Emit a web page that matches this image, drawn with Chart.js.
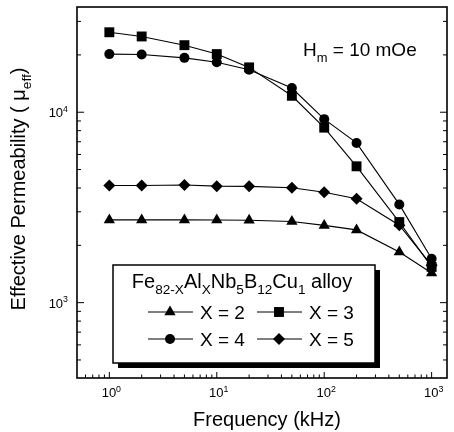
<!DOCTYPE html>
<html>
<head>
<meta charset="utf-8">
<script src="https://cdn.jsdelivr.net/npm/chart.js@4.4.1/dist/chart.umd.min.js"></script>
<style>
  body { margin: 0; background: #fff; }
  #wrap { width: 454px; height: 432px; }
</style>
</head>
<body>
<div id="wrap"><canvas id="perm_canvas" width="454" height="432"></canvas></div>
<script>
// values (frequency in kHz, effective permeability)
const freqKHz = [1, 2, 5, 10, 20, 50, 100, 200, 500, 1000];
const muX2 = [2720, 2720, 2720, 2715, 2710, 2670, 2545, 2410, 1845, 1430];
const muX3 = [26300, 25000, 22500, 20200, 17200, 12200, 8300, 5200, 2650, 1540];
const muX4 = [20200, 20100, 19300, 18300, 16700, 13400, 9200, 6900, 3280, 1700];
const muX5 = [4120, 4120, 4150, 4090, 4080, 4010, 3800, 3510, 2550, 1570];

const seriesNames = ["X = 2", "X = 3", "X = 4", "X = 5"];
const xTickExps = [0, 1, 2, 3];
const yTickExps = [3, 4];

const FONT = '"Liberation Sans", Arial, sans-serif';

function series(label, data, style, r) {
  return {
    label: label,
    data: data,
    borderColor: "#000",
    borderWidth: 1.1,
    backgroundColor: "#000",
    pointStyle: style,
    pointRadius: r,
    pointBorderWidth: 0,
    pointBackgroundColor: "#000"
  };
}

// text with sub/superscripts: parts = [[text, 0|-1|1], ...] (-1 sub, 1 sup)
function richWidth(ctx, parts, size) {
  let w = 0;
  parts.forEach(p => {
    ctx.font = (p[1] ? size * 0.68 : size) + "px " + FONT;
    w += ctx.measureText(p[0]).width;
  });
  return w;
}
function drawRich(ctx, parts, x, y, size, align) {
  const w = richWidth(ctx, parts, size);
  let cx = align === "center" ? x - w / 2 : align === "right" ? x - w : x;
  ctx.textAlign = "left";
  ctx.textBaseline = "alphabetic";
  parts.forEach(p => {
    const s = p[1] ? size * 0.68 : size;
    ctx.font = s + "px " + FONT;
    const dy = p[1] === -1 ? size * 0.3 : p[1] === 1 ? -size * 0.42 : 0;
    ctx.fillText(p[0], cx, y + dy);
    cx += ctx.measureText(p[0]).width;
  });
}

function marker(ctx, style, x, y, r) {
  ctx.beginPath();
  if (style === "circle") {
    ctx.arc(x, y, r, 0, Math.PI * 2);
  } else if (style === "rect") {
    const s = Math.SQRT1_2 * r;
    ctx.rect(x - s, y - s, 2 * s, 2 * s);
  } else if (style === "rectRot") {
    ctx.moveTo(x, y - r); ctx.lineTo(x + r, y); ctx.lineTo(x, y + r); ctx.lineTo(x - r, y);
  } else if (style === "triangle") {
    ctx.moveTo(x, y - r);
    ctx.lineTo(x + r * 0.866, y + r * 0.5);
    ctx.lineTo(x - r * 0.866, y + r * 0.5);
  }
  ctx.closePath();
  ctx.fill();
}

const decor = {
  id: "decor",
  afterDraw(chart) {
    const ctx = chart.ctx, a = chart.chartArea;
    const xs = chart.scales.x, ys = chart.scales.y;
    const seg = (x1, y1, x2, y2) => { ctx.beginPath(); ctx.moveTo(x1, y1); ctx.lineTo(x2, y2); ctx.stroke(); };
    ctx.save();
    ctx.strokeStyle = "#000";
    ctx.fillStyle = "#000";

    // frame
    ctx.lineWidth = 1.6;
    ctx.strokeRect(a.left, a.top, a.right - a.left, a.bottom - a.top);

    // inward ticks
    ctx.lineWidth = 1;
    for (let e = -1; e <= 3; e++) {
      for (let m = 1; m <= 9; m++) {
        const v = m * Math.pow(10, e);
        if (v > xs.min && v < xs.max) {
          const px = xs.getPixelForValue(v);
          seg(px, a.bottom, px, a.bottom - (m === 1 ? 6 : 3.5));
        }
      }
    }
    for (let e = 2; e <= 4; e++) {
      for (let m = 1; m <= 9; m++) {
        const v = m * Math.pow(10, e);
        if (v > ys.min && v < ys.max) {
          const py = ys.getPixelForValue(v);
          const len = m === 1 ? 7 : 4;
          seg(a.left, py, a.left + len, py);
          seg(a.right, py, a.right - len, py);
        }
      }
    }

    // tick labels
    xTickExps.forEach(e => {
      drawRich(ctx, [["10", 0], [String(e), 1]], xs.getPixelForValue(Math.pow(10, e)) + 2, 397, 13, "center");
    });
    yTickExps.forEach(e => {
      drawRich(ctx, [["10", 0], [String(e), 1]], a.left - 9, ys.getPixelForValue(Math.pow(10, e)) + 5, 13, "right");
    });

    // axis titles
    drawRich(ctx, [["Frequency (kHz)", 0]], 267, 426, 20, "center");
    ctx.save();
    ctx.translate(25, 189);
    ctx.rotate(-Math.PI / 2);
    drawRich(ctx, [["Effective Permeability ( \u03bc", 0], ["eff", -1], [")", 0]], 0, 0, 20, "center");
    ctx.restore();

    // field annotation
    drawRich(ctx, [["H", 0], ["m", -1], [" = 10 mOe", 0]], 303, 56, 19, "left");

    // legend box with drop shadow
    const L = 113, T = 265, R = 375, B = 363;
    ctx.fillRect(L + 5, T + 5, R - L, B - T);
    ctx.fillStyle = "#fff";
    ctx.fillRect(L, T, R - L, B - T);
    ctx.lineWidth = 1.5;
    ctx.strokeRect(L, T, R - L, B - T);
    ctx.fillStyle = "#000";
    drawRich(ctx, [["Fe", 0], ["82-X", -1], ["Al", 0], ["X", -1], ["Nb", 0], ["5", -1],
                   ["B", 0], ["12", -1], ["Cu", 0], ["1", -1], [" alloy", 0]], 242, 288, 20, "center");
    const cols = [148, 257], rows = [312, 339];
    chart.data.datasets.forEach((ds, i) => {
      const x0 = cols[i % 2], y0 = rows[Math.floor(i / 2)];
      ctx.lineWidth = 1;
      seg(x0, y0, x0 + 45, y0);
      marker(ctx, ds.pointStyle, x0 + 22, y0, ds.pointRadius);
      drawRich(ctx, [[ds.label, 0]], x0 + 52, y0 + 7, 19, "left");
    });
    ctx.restore();
  }
};

new Chart(document.getElementById("perm_canvas").getContext("2d"), {
  type: "line",
  data: {
    labels: freqKHz,
    datasets: [
      series(seriesNames[0], muX2, "triangle", 6.5),
      series(seriesNames[1], muX3, "rect", 7),
      series(seriesNames[2], muX4, "circle", 5),
      series(seriesNames[3], muX5, "rectRot", 6)
    ].map(ds => ({ ...ds, data: ds.data.map((v, i) => ({ x: freqKHz[i], y: v })) }))
  },
  options: {
    responsive: false,
    animation: false,
    layout: { padding: { left: 77, top: 7, right: 1, bottom: 54 } },
    plugins: { legend: { display: false }, tooltip: { enabled: false } },
    scales: {
      x: { type: "logarithmic", min: 0.5, max: 1390, display: false },
      y: { type: "logarithmic", min: 402, max: 35700, display: false }
    }
  },
  plugins: [decor]
});
</script>
</body>
</html>
